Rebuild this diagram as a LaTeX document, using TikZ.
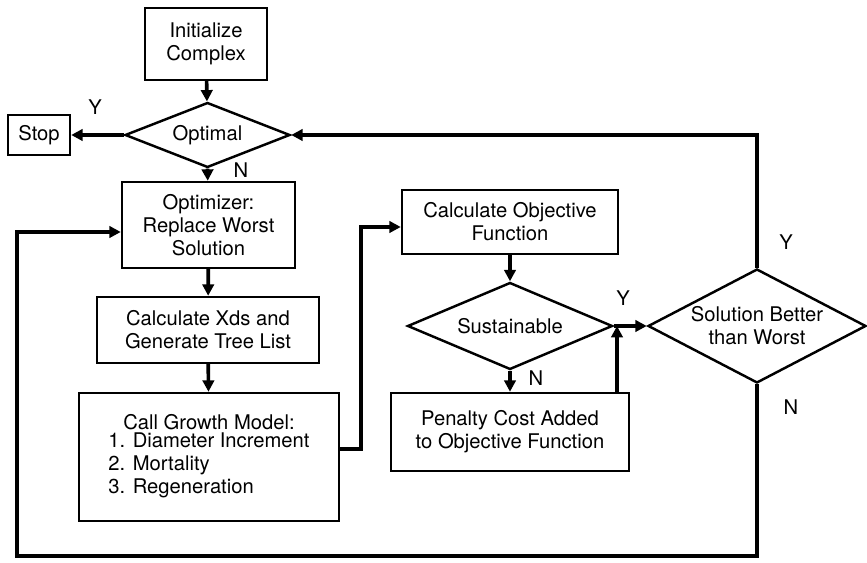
\documentclass[tikz,border=0pt]{standalone}
\usepackage{fontspec}
\setmainfont{TeX Gyre Heros}
\usetikzlibrary{shapes,arrows.meta,positioning,calc}

\begin{document}
\begin{tikzpicture}[
    font=\fontsize{11.5}{13}\selectfont,
    box/.style = {rectangle, draw, line width=1.4pt, inner sep=2pt, align=center},
    decision/.style = {diamond, draw, line width=1.4pt, inner sep=0pt, align=center},
    flow/.style = {line width=2.1pt, -{Triangle[length=6.5pt,width=6.5pt]}},
    link/.style = {line width=2.1pt}
]
    \useasboundingbox (0,0) rectangle (17.34,11.26);

    % Left column
    \node[box, minimum width=2.44cm, minimum height=1.44cm] (init) at (4.12,10.38) {Initialize\\Complex};
    \node[decision, minimum width=3.3cm, minimum height=1.3cm, shape aspect=2.5] (optimal) at (4.15,8.56) {Optimal};
    \node[box, minimum width=1.24cm, minimum height=0.8cm] (stop) at (0.78,8.56) {Stop};
    \node[box, minimum width=3.46cm, minimum height=1.72cm] (optimizer) at (4.17,6.76) {Optimizer:\\Replace Worst\\Solution};
    \node[box, minimum width=4.44cm, minimum height=1.32cm] (xds) at (4.16,4.66) {Calculate Xds and\\Generate Tree List};
    \node[box, minimum width=5.2cm, minimum height=2.56cm] (growth) at (4.18,2.12) {Call Growth Model:\\
        \begin{tabular}{@{}l@{}}1. Diameter Increment\\2. Mortality\\3. Regeneration\end{tabular}};

    % Middle column
    \node[box, minimum width=4.32cm, minimum height=1.28cm] (objective) at (10.2,6.82) {Calculate Objective\\Function};
    \node[decision, minimum width=4.1cm, minimum height=1.74cm, shape aspect=2.4] (sustain) at (10.2,4.74) {Sustainable};
    \node[box, minimum width=4.76cm, minimum height=1.56cm] (penalty) at (10.2,2.62) {Penalty Cost Added\\to Objective Function};

    % Right decision
    \node[decision, minimum width=4.36cm, minimum height=2.28cm, shape aspect=1.9] (better) at (15.14,4.74) {Solution Better\\than Worst};

    % Helper points
    \coordinate (junc) at (12.34,4.74);
    \coordinate (corner) at (0.34,0.14);

    % Labels
    \node (ystop) at (1.9,9.12) {Y};
    \node (noptimal) at (4.82,7.86) {N};
    \node (ysustain) at (12.46,5.3) {Y};
    \node (nsustain) at (10.72,3.7) {N};
    \node (ybetter) at (15.72,6.42) {Y};
    \node (nbetter) at (15.82,3.12) {N};

    % Arrows down the left column
    \draw[flow] (init) -- (optimal);
    \draw[flow] (optimal.west) -- (stop);
    \draw[flow] (optimal.south) -- (optimizer);
    \draw[flow] (optimizer) -- (xds);
    \draw[flow] (xds) -- (growth);

    % Growth model to objective
    \draw[flow] ([yshift=0.16cm]growth.east) -- ++(0.42,0) |- ([yshift=-0.1cm]objective.west);

    % Middle column
    \draw[flow] (objective) -- (sustain.north);
    \draw[flow] (sustain.south) -- (penalty);
    \draw[flow] (penalty.north -| junc) -- (junc);
    \draw[link] (sustain.east) -- (junc);
    \draw[flow] (junc) -- (better.west);

    % Feedback loops
    \draw[flow] (better.north) |- (optimal.east);
    \draw[flow] (better.south) |- (corner) |- ([yshift=-0.14cm]optimizer.west);

\end{tikzpicture}
\end{document}
